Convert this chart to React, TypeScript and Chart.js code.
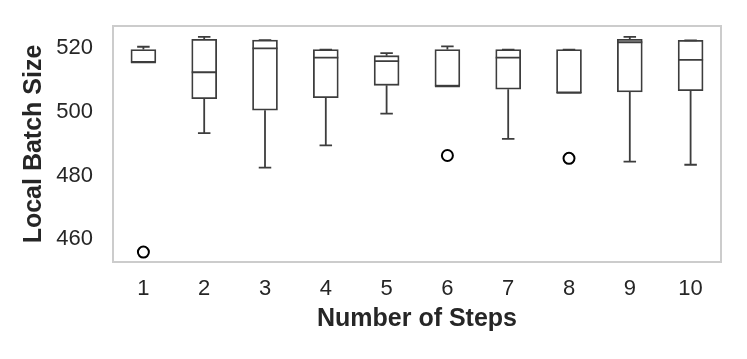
import React, { useEffect, useRef } from "react";
import { Chart, registerables } from "chart.js";

Chart.register(...registerables);

const categories = ["1", "2", "3", "4", "5", "6", "7", "8", "9", "10"];
const whiskerLow = [515.5, 493.3, 482.5, 489.5, 499.4, 508.0, 491.5, 505.9, 484.4, 483.4];
const q1 = [515.5, 504.1, 500.5, 504.4, 508.3, 508.0, 507.1, 505.9, 506.2, 506.6];
const medians = [515.5, 512.4, 519.9, 517.0, 515.9, 508.0, 517.0, 505.9, 521.8, 516.3];
const q3 = [519.5, 522.7, 522.5, 519.5, 517.6, 519.5, 519.5, 519.5, 522.7, 522.4];
const whiskerHigh = [520.4, 523.5, 522.5, 519.5, 518.4, 520.5, 519.5, 519.5, 523.5, 522.4];
const outliers: (number | null)[] = [456.0, null, null, null, null, 486.3, null, 485.4, null, null];
const yTicks = [460, 480, 500, 520];

const BOX_COLOR = "#3d3d3d";
const TEXT_COLOR = "#262626";
const FONT = "'Liberation Sans', Arial, Helvetica, sans-serif";

const boxPlugin = {
  id: "boxExtras",
  afterDatasetsDraw(chart: any) {
    const { ctx, scales } = chart;
    const xs = scales.x;
    const ys = scales.y;
    const meta = chart.getDatasetMeta(0);
    ctx.save();
    ctx.strokeStyle = BOX_COLOR;
    ctx.lineWidth = 1.8;
    categories.forEach((_, i) => {
      const cx = xs.getPixelForValue(i);
      const bar = meta.data[i];
      const half = bar ? bar.width / 2 : 12.5;
      const capHalf = half / 2;
      const yLow = ys.getPixelForValue(whiskerLow[i]);
      const yQ1 = ys.getPixelForValue(q1[i]);
      const yMed = ys.getPixelForValue(medians[i]);
      const yQ3 = ys.getPixelForValue(q3[i]);
      const yHigh = ys.getPixelForValue(whiskerHigh[i]);
      ctx.beginPath();
      ctx.moveTo(cx, yQ1);
      ctx.lineTo(cx, yLow);
      ctx.moveTo(cx - capHalf, yLow);
      ctx.lineTo(cx + capHalf, yLow);
      ctx.moveTo(cx, yQ3);
      ctx.lineTo(cx, yHigh);
      ctx.moveTo(cx - capHalf, yHigh);
      ctx.lineTo(cx + capHalf, yHigh);
      ctx.moveTo(cx - half, yMed);
      ctx.lineTo(cx + half, yMed);
      ctx.stroke();
    });
    ctx.restore();
  },
  afterDraw(chart: any) {
    const { ctx, chartArea } = chart;
    ctx.save();
    ctx.strokeStyle = "#cccccc";
    ctx.lineWidth = 2;
    ctx.strokeRect(chartArea.left, chartArea.top, chartArea.right - chartArea.left, chartArea.bottom - chartArea.top);
    ctx.restore();
  },
};

export default function App() {
  const ref = useRef<HTMLCanvasElement | null>(null);
  useEffect(() => {
    if (!ref.current) return;
    const chart = new Chart(ref.current, {
      type: "bar",
      data: {
        labels: categories,
        datasets: [
          {
            type: "bar",
            data: categories.map((_, i) => [q1[i], q3[i]]) as any,
            backgroundColor: "#ffffff",
            borderColor: BOX_COLOR,
            borderWidth: 1.8,
            borderSkipped: false,
            barThickness: 25,
          } as any,
          {
            type: "line",
            data: outliers as any,
            showLine: false,
            pointRadius: 5.5,
            pointBorderWidth: 2,
            pointBackgroundColor: "rgba(0,0,0,0)",
            pointBorderColor: "#000000",
            borderColor: "#000000",
          } as any,
        ],
      },
      options: {
        responsive: false,
        animation: false,
        layout: { padding: { left: 0, right: 26, top: 26, bottom: 0 } },
        plugins: { legend: { display: false }, tooltip: { enabled: false } },
        scales: {
          x: {
            offset: true,
            grid: { display: false, drawTicks: false, tickLength: 0 },
            border: { display: false },
            ticks: { color: TEXT_COLOR, font: { family: FONT, size: 22 }, padding: 14, maxRotation: 0 },
            title: {
              display: true,
              text: "Number of Steps",
              color: TEXT_COLOR,
              font: { family: FONT, size: 25, weight: "bold" },
              padding: { top: 0, bottom: 25 },
            },
            afterFit: (s: any) => {
              s.height = 97;
              s.paddingLeft = 0;
              s.paddingRight = 0;
            },
          },
          y: {
            min: 452.9,
            max: 526.9,
            grid: { display: false, drawTicks: false, tickLength: 0 },
            border: { display: false },
            ticks: { color: TEXT_COLOR, font: { family: FONT, size: 22 }, padding: 20 },
            afterBuildTicks: (s: any) => {
              s.ticks = yTicks.map((v) => ({ value: v }));
            },
            title: {
              display: true,
              text: "Local Batch Size",
              color: TEXT_COLOR,
              font: { family: FONT, size: 25, weight: "bold" },
              padding: { top: 19, bottom: 0 },
            },
            afterFit: (s: any) => {
              s.width = 113;
              s.paddingTop = 0;
              s.paddingBottom = 0;
            },
          },
        },
      },
      plugins: [boxPlugin],
    });
    return () => chart.destroy();
  }, []);
  return (
    <div style={{ position: "absolute", left: 0, top: 0, width: 747, height: 359, background: "#fff" }}>
      <canvas ref={ref} width={747} height={359} />
    </div>
  );
}
